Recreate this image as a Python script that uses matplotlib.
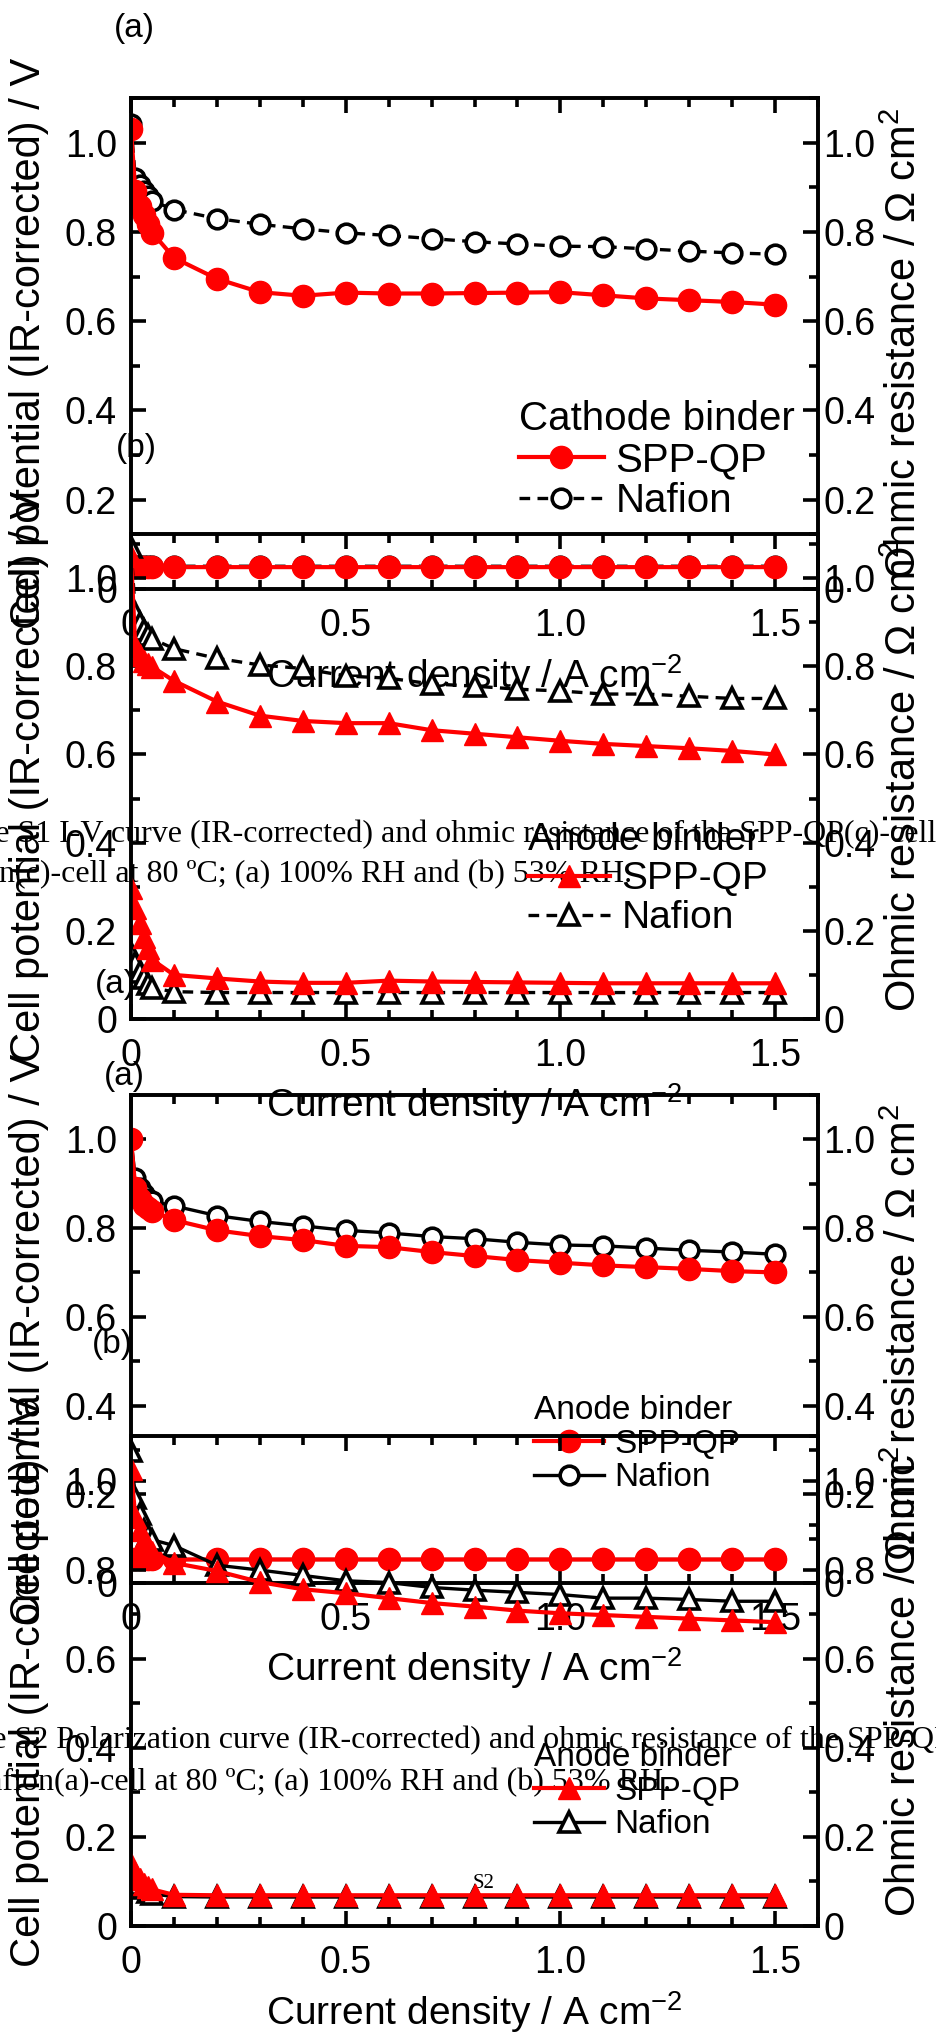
import matplotlib
matplotlib.use("Agg")
import matplotlib.pyplot as plt
from matplotlib.ticker import MultipleLocator, FuncFormatter

plt.rcParams["font.family"] = ["Liberation Sans", "DejaVu Sans"]
plt.rcParams["mathtext.fontset"] = "custom"
plt.rcParams["mathtext.rm"] = "Liberation Sans"
plt.rcParams["mathtext.it"] = "Liberation Sans:italic"
plt.rcParams["mathtext.bf"] = "Liberation Sans:bold"
plt.rcParams["axes.linewidth"] = 2.6

current = [0, 0.01, 0.02, 0.03, 0.04, 0.05, 0.1, 0.2, 0.3, 0.4, 0.5,
           0.6, 0.7, 0.8, 0.9, 1.0, 1.1, 1.2, 1.3, 1.4, 1.5]

# cathode binder, 100% RH
cat100_spp_v = [1.030, 0.892, 0.858, 0.838, 0.818, 0.798, 0.742, 0.695, 0.665, 0.657, 0.664,
                0.662, 0.662, 0.663, 0.664, 0.665, 0.658, 0.651, 0.647, 0.643, 0.637]
cat100_naf_v = [1.041, 0.921, 0.905, 0.892, 0.880, 0.869, 0.850, 0.830, 0.817, 0.807, 0.798,
                0.792, 0.785, 0.778, 0.773, 0.768, 0.767, 0.762, 0.757, 0.753, 0.750]
cat100_spp_r = [0.052, 0.050, 0.050, 0.049, 0.049, 0.049, 0.049, 0.049, 0.049, 0.049, 0.049,
                0.049, 0.049, 0.049, 0.049, 0.049, 0.049, 0.049, 0.049, 0.049, 0.049]
cat100_naf_r = [0.054, 0.052, 0.052, 0.051, 0.051, 0.051, 0.051, 0.051, 0.051, 0.051, 0.051,
                0.051, 0.051, 0.051, 0.051, 0.051, 0.051, 0.051, 0.051, 0.051, 0.051]

# cathode binder, 53% RH
cat53_spp_v = [1.050, 0.845, 0.825, 0.812, 0.805, 0.798, 0.767, 0.720, 0.688, 0.676, 0.671,
               0.671, 0.655, 0.647, 0.639, 0.631, 0.624, 0.619, 0.614, 0.608, 0.600]
cat53_naf_v = [1.070, 0.920, 0.898, 0.882, 0.870, 0.862, 0.840, 0.818, 0.803, 0.795, 0.778,
               0.773, 0.760, 0.755, 0.748, 0.744, 0.737, 0.737, 0.732, 0.727, 0.727]
cat53_spp_r = [0.296, 0.251, 0.217, 0.187, 0.160, 0.134, 0.100, 0.092, 0.085, 0.082, 0.082,
               0.087, 0.085, 0.084, 0.083, 0.082, 0.081, 0.081, 0.081, 0.081, 0.081]
cat53_naf_r = [0.150, 0.127, 0.107, 0.093, 0.080, 0.070, 0.062, 0.060, 0.060, 0.060, 0.060,
               0.060, 0.060, 0.060, 0.060, 0.060, 0.060, 0.060, 0.060, 0.060, 0.060]

# anode binder, 100% RH
an100_spp_v = [1.000, 0.891, 0.866, 0.853, 0.845, 0.838, 0.818, 0.795, 0.782, 0.773, 0.760,
               0.757, 0.746, 0.737, 0.728, 0.722, 0.716, 0.712, 0.708, 0.703, 0.700]
an100_naf_v = [1.000, 0.913, 0.890, 0.876, 0.866, 0.860, 0.850, 0.828, 0.815, 0.805, 0.795,
               0.789, 0.781, 0.776, 0.768, 0.762, 0.760, 0.755, 0.750, 0.746, 0.741]
an100_spp_r = [0.054, 0.053, 0.053, 0.053, 0.053, 0.053, 0.053, 0.053, 0.053, 0.053, 0.053,
               0.053, 0.053, 0.053, 0.053, 0.053, 0.053, 0.053, 0.053, 0.053, 0.053]
an100_naf_r = [0.054, 0.053, 0.053, 0.053, 0.053, 0.053, 0.053, 0.053, 0.053, 0.053, 0.053,
               0.053, 0.053, 0.053, 0.053, 0.053, 0.053, 0.053, 0.053, 0.053, 0.053]

# anode binder, 53% RH
an53_spp_v = [1.025, 0.919, 0.890, 0.866, 0.850, 0.840, 0.815, 0.797, 0.772, 0.756, 0.747,
              0.736, 0.725, 0.717, 0.708, 0.702, 0.698, 0.694, 0.690, 0.686, 0.682]
an53_naf_v = [1.067, 0.960, 0.925, 0.890, 0.877, 0.867, 0.854, 0.810, 0.799, 0.787, 0.775,
              0.771, 0.760, 0.754, 0.749, 0.744, 0.736, 0.736, 0.733, 0.729, 0.729]
an53_spp_r = [0.140, 0.120, 0.105, 0.095, 0.088, 0.082, 0.070, 0.069, 0.069, 0.069, 0.069,
              0.069, 0.069, 0.069, 0.069, 0.069, 0.069, 0.069, 0.069, 0.069, 0.069]
an53_naf_r = [0.130, 0.110, 0.095, 0.085, 0.077, 0.072, 0.066, 0.065, 0.065, 0.065, 0.065,
              0.065, 0.065, 0.065, 0.065, 0.065, 0.065, 0.065, 0.065, 0.065, 0.065]

caption_1 = ["Figure S1 I-V curve (IR-corrected) and ohmic resistance of the SPP-QP(c)-cell and",
             "Nafion(c)-cell at 80 \u00baC; (a) 100% RH and (b) 53% RH."]
caption_2 = ["Figure S2 Polarization curve (IR-corrected) and ohmic resistance of the SPP-QP(a)-cell and",
             "Nafion(a)-cell at 80 \u00baC; (a) 100% RH and (b) 53% RH."]

W, H = 936, 2038
fig = plt.figure(figsize=(W / 100, H / 100), dpi=100)

tick_fmt = FuncFormatter(lambda v, p: "0" if abs(v) < 1e-9 else f"{v:.1f}")


def panel(top, bottom, marker, naf_dashed, spp_v, naf_v, spp_r, naf_r,
          title, leg_x, leg_top, leg_size):
    left, right = 131, 818
    ax = fig.add_axes([left / W, 1 - bottom / H, (right - left) / W, (bottom - top) / H])
    ax.patch.set_visible(False)
    ax2 = ax.twinx()
    ax2.patch.set_visible(False)

    ms = 16 if marker == "o" else 16.5
    naf_ls = (0, (3.2, 2.2)) if naf_dashed else "-"
    naf_kw = dict(color="black", lw=2.4, ls=naf_ls, marker=marker, ms=ms - 2.6,
                  mfc="white", mec="black", mew=2.6)
    spp_kw = dict(color="red", lw=3.0, marker=marker, ms=ms, mfc="red", mec="red")

    ln_naf, = ax.plot(current, naf_v, label="Nafion", **naf_kw)
    ln_spp, = ax.plot(current, spp_v, label="SPP-QP", **spp_kw)
    ax2.plot(current, naf_r, **naf_kw)
    ax2.plot(current, spp_r, **spp_kw)

    for a in (ax, ax2):
        a.set_xlim(0, 1.6)
        a.set_ylim(0, 1.1)
        a.yaxis.set_major_locator(MultipleLocator(0.2))
        a.yaxis.set_minor_locator(MultipleLocator(0.1))
        a.yaxis.set_major_formatter(tick_fmt)
    ax.xaxis.set_major_locator(MultipleLocator(0.5))
    ax.xaxis.set_minor_locator(MultipleLocator(0.1))
    ax.xaxis.set_major_formatter(tick_fmt)

    ax.tick_params(which="both", direction="in", top=True, right=False, width=2.6, labelsize=27)
    ax.tick_params(which="major", length=11)
    ax.tick_params(which="minor", length=6.5)
    ax.tick_params(axis="x", pad=14)
    ax.tick_params(axis="y", pad=10)
    ax2.tick_params(which="both", direction="in", width=2.6, labelsize=27, pad=4)
    ax2.tick_params(which="major", length=11)
    ax2.tick_params(which="minor", length=6.5)

    ax.set_xlabel("Current density / A cm$^{-2}$", fontsize=28, va="center")
    ax.xaxis.set_label_coords(0.5, -0.175)
    ax.set_ylabel("Cell potential (IR-corrected) / V", fontsize=30, va="center")
    ax.yaxis.set_label_coords(-0.149, 0.5)
    ax2.set_ylabel("Ohmic resistance / \u03a9 cm$^{2}$", fontsize=30, va="center")
    ax2.yaxis.set_label_coords(1.127, 0.5)

    ax.legend(handles=[ln_spp, ln_naf], title=title, loc="upper left",
              bbox_to_anchor=(leg_x / W, 1 - leg_top / H), bbox_transform=fig.transFigure,
              frameon=False, fontsize=leg_size, title_fontsize=leg_size, alignment="left",
              borderpad=0, borderaxespad=0, handlelength=2.1, handletextpad=0.3,
              labelspacing=0.08, numpoints=1)
    return ax, ax2


panel(98, 589, "o", True, cat100_spp_v, cat100_naf_v, cat100_spp_r, cat100_naf_r,
      "Cathode binder", 519, 400, 29)
panel(534, 1019, "^", True, cat53_spp_v, cat53_naf_v, cat53_spp_r, cat53_naf_r,
      "Anode binder", 528, 822, 28)
panel(1095, 1583, "o", False, an100_spp_v, an100_naf_v, an100_spp_r, an100_naf_r,
      "Anode binder", 534, 1395, 24)
panel(1436, 1926, "^", False, an53_spp_v, an53_naf_v, an53_spp_r, an53_naf_r,
      "Anode binder", 534, 1742, 24)

# panel letters
for s, x, y in [("(a)", 134, 28), ("(b)", 136, 448), ("(a)", 115, 985),
                ("(a)", 124, 1077), ("(b)", 112, 1345)]:
    fig.text(x / W, 1 - y / H, s, fontsize=24, ha="center", va="center")

# caption lines of the page behind the figures
serif = ["Liberation Serif", "DejaVu Serif"]
for line, x, y in [(caption_1[0], -74, 842), (caption_1[1], -74, 882),
                   (caption_2[0], -77, 1748), (caption_2[1], -35, 1790)]:
    fig.text(x / W, 1 - y / H, line, family=serif, fontsize=23, ha="left",
             va="baseline", zorder=-1)
fig.text(484 / W, 1 - 1884 / H, "S2", family=serif, fontsize=15, ha="center",
         va="center", zorder=-1)

fig.savefig("out.png", dpi=100)
